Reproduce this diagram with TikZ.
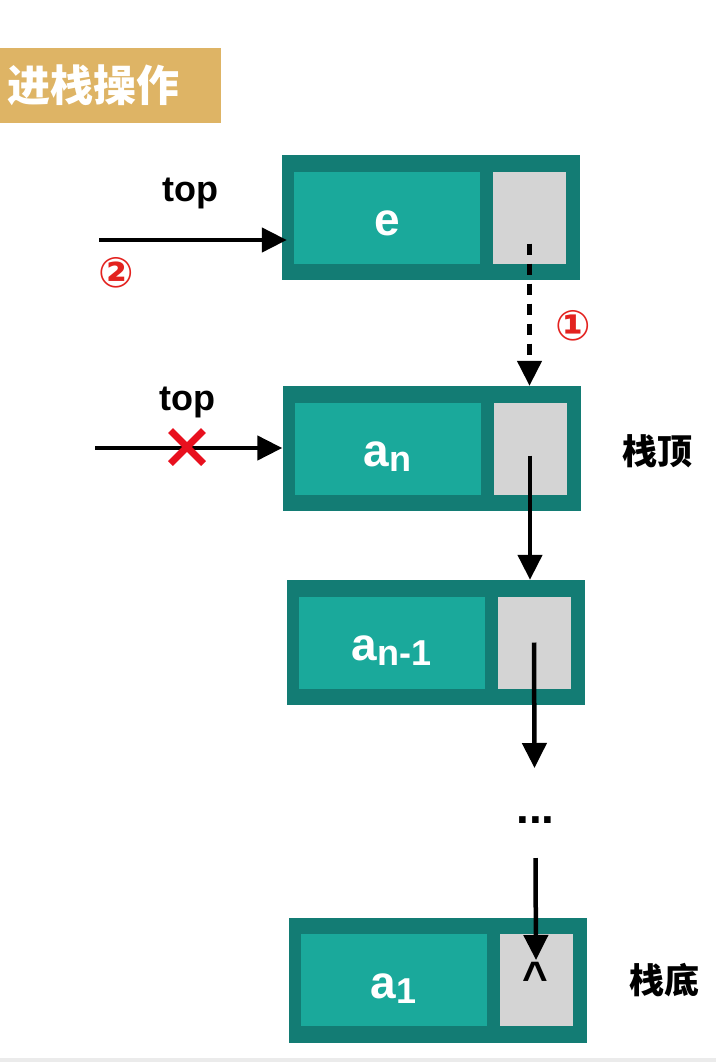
\documentclass[tikz,border=0pt]{standalone}
\usepackage{fontspec}
\setmainfont{Liberation Sans}
\newfontfamily\cjkfont{Noto Sans CJK SC}
\newfontfamily\symfont{DejaVu Sans}
\usetikzlibrary{arrows.meta,positioning,shapes.misc}
\definecolor{celldark}{HTML}{137C74}
\definecolor{cellfill}{HTML}{1AA99B}
\definecolor{ptrfill}{HTML}{D4D4D4}
\definecolor{titlegold}{HTML}{DEB465}
\definecolor{markred}{HTML}{E3221F}
\definecolor{crossred}{HTML}{E8101E}
\definecolor{stripgray}{HTML}{EBEBEB}
\newcommand{\lowidx}[1]{\raisebox{-5pt}[0pt][0pt]{\fontsize{36}{36}\selectfont #1}}

\begin{document}
\begin{tikzpicture}[x=1pt,y=-1pt,
  cell/.style={fill=celldark,minimum width=298pt,minimum height=125pt,inner sep=0pt},
  datafield/.style={fill=cellfill,minimum width=186pt,minimum height=92pt,inner sep=0pt,text height=40pt,text depth=4pt,text=white,font=\fontsize{46}{46}\selectfont\bfseries},
  ptrfield/.style={fill=ptrfill,minimum width=73pt,minimum height=92pt,inner sep=0pt},
  link/.style={line width=4.5pt,-{Triangle[length=25pt,width=24pt]}},
  toplabel/.style={font=\fontsize{36}{36}\selectfont\bfseries},
  sidelabel/.style={font=\cjkfont\fontsize{35}{35}\selectfont\bfseries},
  stepmark/.style={text=markred,font=\symfont\fontsize{42}{42}\selectfont\bfseries}]
\useasboundingbox (0,0) rectangle (716,1062);
\fill[stripgray] (0,1058) rectangle (716,1062);
\node[fill=titlegold,minimum width=221pt,minimum height=75pt,inner sep=0pt] (title) at (110.5,85.5) {};
\node[right=7pt of title.west,inner sep=0pt,text=white,font=\cjkfont\fontsize{43}{43}\selectfont\bfseries] (titletext) {进栈操作};
\foreach \nm/\x/\y/\val in {e/431/217.5/e,an/431.5/448.5/{a\lowidx{n}},an1/435.5/642.5/{a\lowidx{n-1}},a1/437.5/980/{a\lowidx{1}}}{
  \node[cell] (\nm) at (\x,\y) {};
  \node[datafield,right=12pt of \nm.west] (\nm-val) {\val};
  \node[ptrfield,left=14pt of \nm.east] (\nm-ptr) {};
}
\draw[link,dash pattern=on 11pt off 9pt] ([yshift=-26pt]e-ptr.center) -- (e-ptr.center |- an.north);
\draw[link] ([yshift=-7pt]an-ptr.center) -- (an-ptr.center |- an1.north);
\coordinate (gapend) at (534.5,768);
\draw[link] (an1-ptr.center) -- (gapend);
\node[font=\fontsize{46}{46}\selectfont\bfseries] (dots) at (535.5,820) {...};
\draw[link] ([yshift=-38pt]dots.center) -- ([yshift=20pt]a1-ptr.center);
\node[anchor=north,inner sep=0pt,font=\fontsize{44}{44}\selectfont\bfseries] (null) at (535.5,962) {\textasciicircum};
\coordinate (newtop) at (99,240);
\draw[link] (newtop) -- ([xshift=5pt]e.west |- newtop);
\node[toplabel] (newtoplbl) at (190,193) {top};
\node[stepmark] (stepb) at (116,273) {②};
\node[stepmark] (stepa) at (573,326) {①};
\coordinate (oldtop) at (95,448);
\draw[link] (oldtop) -- (an.west |- oldtop);
\node[toplabel] (oldtoplbl) at (187,402) {top};
\node[draw=crossred,cross out,line width=7pt,minimum size=26pt,inner sep=0pt] (cut) at (187,447) {};
\node[sidelabel] (toplbl) at (657,451) {栈顶};
\node[sidelabel] (botlbl) at (664,980) {栈底};
\end{tikzpicture}
\end{document}
